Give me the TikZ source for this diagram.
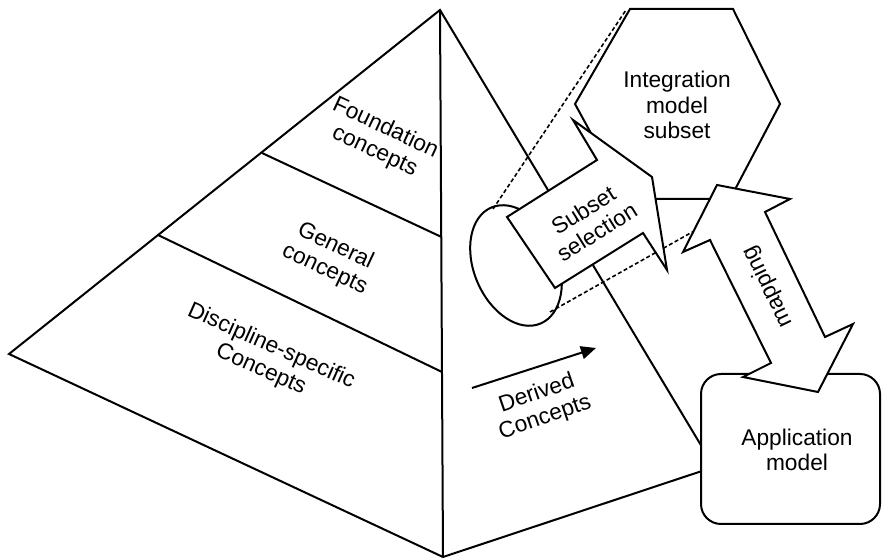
\documentclass[tikz,border=0pt]{standalone}
\usepackage{fontspec}
\setmainfont{Liberation Sans}
\usetikzlibrary{arrows.meta}
\tikzset{
  ln/.style={line width=2bp, line join=miter, black},
  shp/.style={ln, fill=white},
  dsh/.style={line width=1.6bp, dash pattern=on 4bp off 2.5bp},
  lbl/.style={font=\fontsize{22.8}{25.5}\selectfont, align=center, inner sep=0pt},
}
\begin{document}
\begin{tikzpicture}[x=1bp,y=1bp]
\useasboundingbox (0,0) rectangle (882,560);
% pyramid
\coordinate (A) at (440,550);
\coordinate (L) at (9,206);
\coordinate (B) at (443,3);
\coordinate (R) at (714,93);
\coordinate (d1a) at (262,407);
\coordinate (d1b) at (441.5,323);
\coordinate (d2a) at (158,325);
\coordinate (d2b) at (442,188);
\draw[ln] (A) -- (L) -- (B) -- (R) -- cycle;
\draw[ln] (A) -- (B);
\draw[ln] (d1a) -- (d1b);
\draw[ln] (d2a) -- (d2b);
\node[lbl, rotate=-25] (found) at (380,420) {Foundation\\concepts};
\node[lbl, rotate=-25] (gen) at (330,302) {General\\concepts};
\node[lbl, rotate=-24] (disc) at (266,202) {Discipline-specific\\Concepts};
% derived concepts arrow
\coordinate (dvs) at (472,172);
\coordinate (dve) at (596,212);
\draw[ln, -{Triangle[length=15bp,width=13bp]}] (dvs) -- (dve);
\node[lbl, rotate=19] (derived) at (541,154) {Derived\\Concepts};
% integration model subset hexagon
\coordinate (h1) at (630,551);
\coordinate (h2) at (733,551);
\coordinate (h3) at (780,456);
\coordinate (h4) at (730,361);
\coordinate (h5) at (627,361);
\coordinate (h6) at (575,456);
\draw[shp] (h1) -- (h2) -- (h3) -- (h4) -- (h5) -- (h6) -- cycle;
\node[lbl] (ims) at (677,455) {Integration\\model\\subset};
% ellipse (view)
\draw[ln, fill=white, rotate around={-67:(516,294.5)}] (516,294.5) ellipse [x radius=63bp, y radius=42bp];
\coordinate (e1) at (493,351);
\coordinate (e2) at (550,248);
\coordinate (t1) at (626,550);
\coordinate (t2) at (735,352);
\draw[dsh] (e1) -- (t1);
\draw[dsh] (e2) -- (t2);
% application model
\node[ln, draw, rounded corners=20bp, minimum width=179bp, minimum height=150bp, inner sep=0pt, fill=white] (app) at (790.5,111) {};
\node[lbl] (applbl) at (797,110) {Application\\model};
% subset selection arrow
\draw[shp] (507,343) -- (597,400) -- (573,440) -- (652,383) -- (667,290) -- (643,327) -- (555,272) -- cycle;
\node[lbl, rotate=32] (subsel) at (590,339) {Subset\\selection};
% mapping double arrow
\draw[shp] (717,375) -- (790,361) -- (765,348) -- (825,223) -- (853,236) -- (818,168) -- (743,183) -- (771,197) -- (710,320) -- (683,308) -- cycle;
\node[lbl, rotate=116] (map) at (768,273) {mapping};
\end{tikzpicture}
\end{document}
